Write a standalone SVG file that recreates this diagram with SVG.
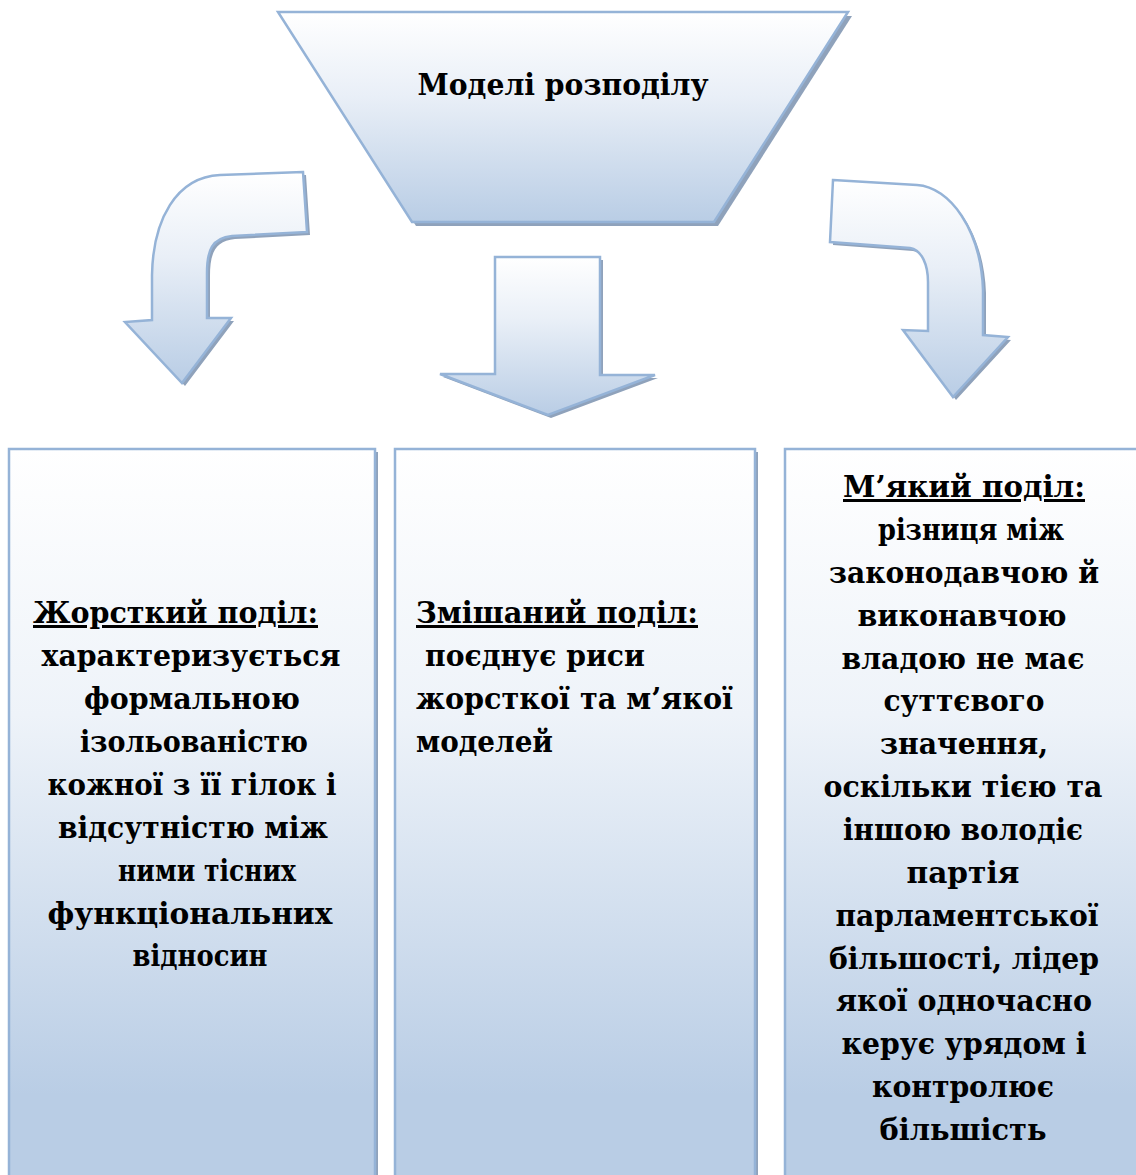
<svg xmlns="http://www.w3.org/2000/svg" width="1136" height="1175" viewBox="0 0 1136 1175">
<defs>
<linearGradient id="g" x1="0" y1="0" x2="0" y2="1">
<stop offset="0" stop-color="#ffffff"/>
<stop offset="0.4" stop-color="#e9eff7"/>
<stop offset="1" stop-color="#b9cde5"/>
</linearGradient>
<linearGradient id="gb" x1="0" y1="0" x2="0" y2="1">
<stop offset="0" stop-color="#ffffff"/>
<stop offset="0.35" stop-color="#eef3f9"/>
<stop offset="0.85" stop-color="#b9cde5"/>
<stop offset="1" stop-color="#b9cde5"/>
</linearGradient>
<style>
.sh{fill:#8fa2bb;stroke:none}
.sf{fill:url(#g);stroke:#95b3d7;stroke-width:2.5;stroke-linejoin:miter}
.bx{fill:url(#gb);stroke:#95b3d7;stroke-width:2.5}
.c{text-anchor:middle}
.u{text-decoration:underline}
</style>
</defs>
<g font-family="DejaVu Serif, Liberation Serif, serif" font-weight="bold" font-size="30" fill="#000">
<g id="top">
<path class="sh" d="M282 16 L852 16 L718 226 L416 226 Z"/>
<path class="sf" d="M278 12 L848 12 L714 222 L412 222 Z"/>
<text class="c" x="563" y="95" textLength="291" lengthAdjust="spacingAndGlyphs">Моделі розподілу</text>
</g>
<g id="connectors">
<g id="arrow-left">
<path class="sh" transform="translate(3,3)" d="M303 172 L220 175 C176 177 153 220 152 275 L152 320 L125 322 L182 383 L231 318 L207 318 L207 273 C207 250 212 238 232 236 L307 232 Z"/>
<path class="sf" d="M303 172 L220 175 C176 177 153 220 152 275 L152 320 L125 322 L182 383 L231 318 L207 318 L207 273 C207 250 212 238 232 236 L307 232 Z"/>
</g>
<g id="arrow-center">
<path class="sh" transform="translate(3,3)" d="M495 257 L600 257 L600 375 L655 375 L548 415 L440 374 L495 374 Z"/>
<path class="sf" d="M495 257 L600 257 L600 375 L655 375 L548 415 L440 374 L495 374 Z"/>
</g>
<g id="arrow-right">
<path class="sh" transform="translate(3,3)" d="M833 180 L917 185 C950 187 981 230 983 290 L983 335 L1008 337 L953 397 L903 330 L928 331 L928 282 C928 265 922 250 910 248 L830 242 Z"/>
<path class="sf" d="M833 180 L917 185 C950 187 981 230 983 290 L983 335 L1008 337 L953 397 L903 330 L928 331 L928 282 C928 265 922 250 910 248 L830 242 Z"/>
</g>
</g>
<g id="box-left">
<rect class="sh" x="12" y="452" width="366" height="760"/>
<rect class="bx" x="9" y="449" width="366" height="760"/>
<text class="u" x="33" y="623" textLength="285" lengthAdjust="spacingAndGlyphs">Жорсткий поділ:</text>
<text class="c" x="191" y="666" textLength="299" lengthAdjust="spacingAndGlyphs">характеризується</text>
<text class="c" x="192" y="709" textLength="216" lengthAdjust="spacingAndGlyphs">формальною</text>
<text class="c" x="194" y="752" textLength="228" lengthAdjust="spacingAndGlyphs">ізольованістю</text>
<text class="c" x="192" y="795" textLength="289" lengthAdjust="spacingAndGlyphs">кожної з її гілок і</text>
<text class="c" x="193" y="838" textLength="270" lengthAdjust="spacingAndGlyphs">відсутністю між</text>
<text class="c" x="207" y="881" textLength="178" lengthAdjust="spacingAndGlyphs">ними тісних</text>
<text class="c" x="190" y="924" textLength="285" lengthAdjust="spacingAndGlyphs">функціональних</text>
<text class="c" x="200" y="966" textLength="135" lengthAdjust="spacingAndGlyphs">відносин</text>
</g>
<g id="box-middle">
<rect class="sh" x="398" y="452" width="360" height="760"/>
<rect class="bx" x="395" y="449" width="360" height="760"/>
<text class="u" x="416" y="623" textLength="282" lengthAdjust="spacingAndGlyphs">Змішаний поділ:</text>
<text x="425" y="666" textLength="220" lengthAdjust="spacingAndGlyphs">поєднує риси</text>
<text x="416" y="709" textLength="317" lengthAdjust="spacingAndGlyphs">жорсткої та м’якої</text>
<text x="416" y="752" textLength="137" lengthAdjust="spacingAndGlyphs">моделей</text>
</g>
<g id="box-right">
<rect class="sh" x="788" y="452" width="360" height="760"/>
<rect class="bx" x="785" y="449" width="360" height="760"/>
<text class="c u" x="964" y="497" textLength="242" lengthAdjust="spacingAndGlyphs">М’який поділ:</text>
<text class="c" x="971" y="540" textLength="186" lengthAdjust="spacingAndGlyphs">різниця між</text>
<text class="c" x="964" y="583" textLength="270" lengthAdjust="spacingAndGlyphs">законодавчою й</text>
<text class="c" x="962" y="626" textLength="209" lengthAdjust="spacingAndGlyphs">виконавчою</text>
<text class="c" x="963" y="669" textLength="243" lengthAdjust="spacingAndGlyphs">владою не має</text>
<text class="c" x="964" y="711" textLength="161" lengthAdjust="spacingAndGlyphs">суттєвого</text>
<text class="c" x="964" y="754" textLength="168" lengthAdjust="spacingAndGlyphs">значення,</text>
<text class="c" x="963" y="797" textLength="279" lengthAdjust="spacingAndGlyphs">оскільки тією та</text>
<text class="c" x="963" y="840" textLength="240" lengthAdjust="spacingAndGlyphs">іншою володіє</text>
<text class="c" x="963" y="883" textLength="113" lengthAdjust="spacingAndGlyphs">партія</text>
<text class="c" x="967" y="926" textLength="263" lengthAdjust="spacingAndGlyphs">парламентської</text>
<text class="c" x="964" y="969" textLength="270" lengthAdjust="spacingAndGlyphs">більшості, лідер</text>
<text class="c" x="964" y="1011" textLength="256" lengthAdjust="spacingAndGlyphs">якої одночасно</text>
<text class="c" x="964" y="1054" textLength="245" lengthAdjust="spacingAndGlyphs">керує урядом і</text>
<text class="c" x="963" y="1097" textLength="182" lengthAdjust="spacingAndGlyphs">контролює</text>
<text class="c" x="963" y="1140" textLength="167" lengthAdjust="spacingAndGlyphs">більшість</text>
</g>
</g>
</svg>
